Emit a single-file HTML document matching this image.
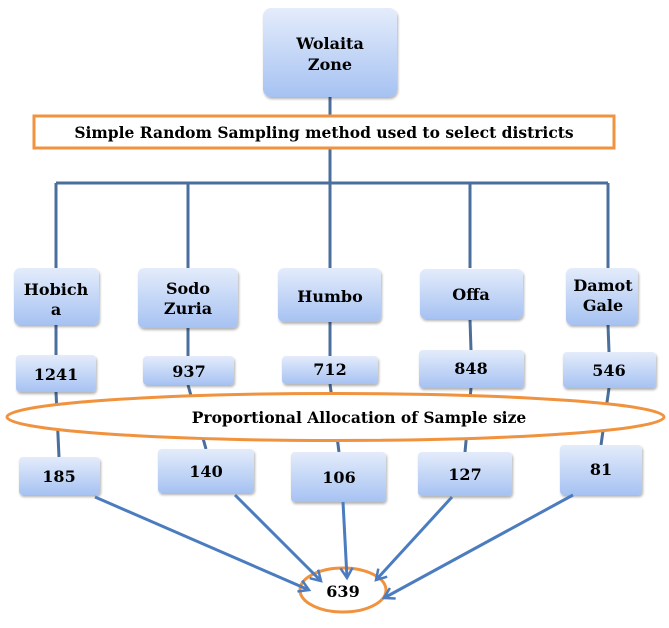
<!DOCTYPE html>
<html><head><meta charset="utf-8"><style>
body{margin:0;background:#fff}
svg text{font-family:"DejaVu Serif","Liberation Serif",serif;font-weight:bold;fill:#000;text-anchor:middle}
</style></head><body>
<svg width="669" height="623" viewBox="0 0 669 623" xmlns="http://www.w3.org/2000/svg">
<defs>
<linearGradient id="g" x1="0" y1="0" x2="0" y2="1">
<stop offset="0" stop-color="#e4ecfb"/><stop offset="1" stop-color="#a6c2f2"/></linearGradient>
<filter id="s" x="-20%" y="-20%" width="140%" height="150%"><feDropShadow dx="1" dy="2" stdDeviation="1.2" flood-color="#000" flood-opacity="0.3"/></filter>
<marker id="a" markerWidth="14" markerHeight="14" refX="11" refY="7" orient="auto" markerUnits="userSpaceOnUse">
<path d="M1,1 L11,7 L1,13" fill="none" stroke="#4a7cbf" stroke-width="2.5"/></marker>
</defs>
<g stroke="#4a6f9c" stroke-width="3" fill="none">
<line x1="330" y1="97" x2="330" y2="183"/>
<line x1="56" y1="183" x2="608" y2="183"/>
<line x1="56" y1="183" x2="56" y2="268"/>
<line x1="188" y1="183" x2="188" y2="268"/>
<line x1="330" y1="183" x2="330" y2="268"/>
<line x1="470" y1="183" x2="470" y2="268"/>
<line x1="608" y1="183" x2="608" y2="268"/>
<line x1="56" y1="325" x2="56" y2="355"/>
<line x1="56" y1="392" x2="59" y2="457"/>
<line x1="188" y1="328" x2="188" y2="356"/>
<line x1="188" y1="385" x2="206" y2="449"/>
<line x1="330" y1="322" x2="330" y2="356"/>
<line x1="330" y1="384" x2="339" y2="452"/>
<line x1="470" y1="320" x2="471" y2="350"/>
<line x1="471" y1="388" x2="465" y2="452"/>
<line x1="608" y1="325" x2="609" y2="352"/>
<line x1="609" y1="388" x2="601" y2="445"/>
</g>
<g fill="url(#g)" filter="url(#s)">
<rect x="263" y="8" width="134" height="89" rx="8"/>
<rect x="14" y="268" width="85" height="57" rx="6"/>
<rect x="138" y="268" width="100" height="60" rx="6"/>
<rect x="278" y="268" width="103" height="54" rx="6"/>
<rect x="420" y="269" width="103" height="50" rx="6"/>
<rect x="566" y="268" width="72" height="57" rx="6"/>
<rect x="16" y="355" width="80" height="37" rx="4"/>
<rect x="143" y="356" width="91" height="29" rx="4"/>
<rect x="282" y="356" width="96" height="28" rx="4"/>
<rect x="419" y="350" width="105" height="38" rx="4"/>
<rect x="563" y="352" width="93" height="36" rx="4"/>
<rect x="19" y="457" width="81" height="38" rx="4"/>
<rect x="158" y="449" width="96" height="44" rx="4"/>
<rect x="291" y="452" width="95" height="50" rx="4"/>
<rect x="418" y="452" width="94" height="44" rx="4"/>
<rect x="560" y="445" width="82" height="50" rx="4"/>
</g>
<rect x="34" y="116" width="580" height="32" fill="#fff" stroke="#f0923e" stroke-width="3"/>
<ellipse cx="335.5" cy="417" rx="328.5" ry="23.5" fill="#fff" stroke="#f0923e" stroke-width="3"/>
<ellipse cx="343" cy="590" rx="43" ry="22" fill="#fff" stroke="#f0923e" stroke-width="3"/>
<g stroke="#4a7cbf" stroke-width="3" fill="none" marker-end="url(#a)">
<line x1="95" y1="497" x2="309" y2="590"/>
<line x1="235" y1="495" x2="321" y2="581"/>
<line x1="343" y1="502" x2="347" y2="578"/>
<line x1="452" y1="497" x2="376" y2="580"/>
<line x1="573" y1="495" x2="384" y2="598"/>
</g>
<g font-size="16">
<text x="330" y="49">Wolaita</text><text x="330" y="70">Zone</text>
<text x="324" y="138" font-size="15.5">Simple Random Sampling method used to select districts</text>
<text x="56" y="295">Hobich</text><text x="56" y="315">a</text>
<text x="188" y="294">Sodo</text><text x="188" y="314">Zuria</text>
<text x="330" y="302">Humbo</text>
<text x="471" y="300">Offa</text>
<text x="603" y="291">Damot</text><text x="603" y="311">Gale</text>
<text x="56" y="380">1241</text>
<text x="189" y="377">937</text>
<text x="330" y="375">712</text>
<text x="471" y="374">848</text>
<text x="609" y="376">546</text>
<text x="359" y="423" font-size="15.5">Proportional Allocation of Sample size</text>
<text x="59" y="482">185</text>
<text x="206" y="477">140</text>
<text x="339" y="483">106</text>
<text x="465" y="480">127</text>
<text x="601" y="475">81</text>
<text x="343" y="597">639</text>
</g>
</svg>
</body></html>
